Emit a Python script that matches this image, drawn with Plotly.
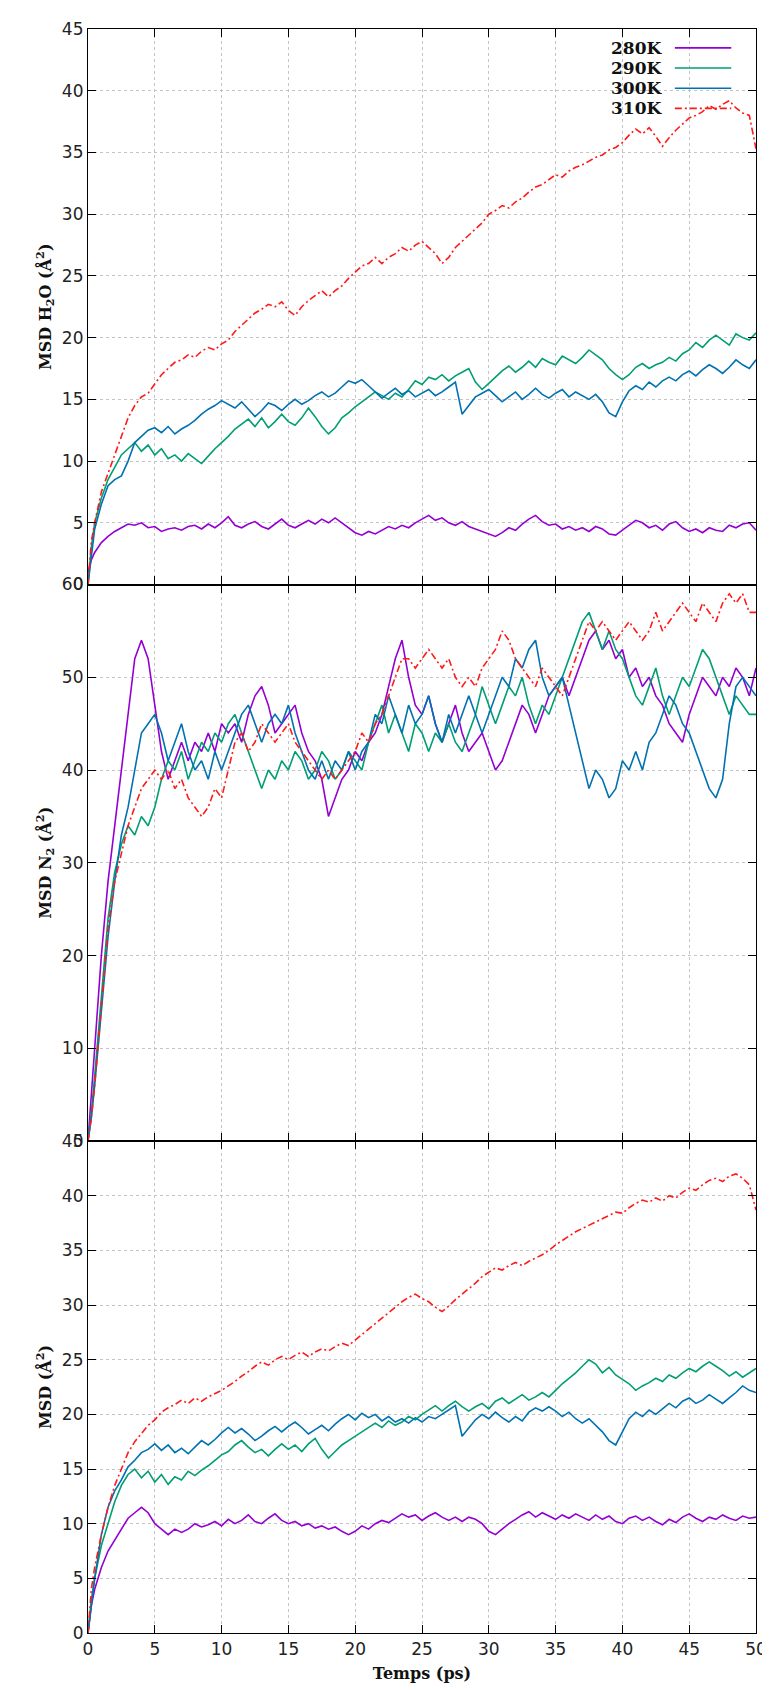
import plotly.graph_objects as go
from plotly.subplots import make_subplots

# time axis (ps): 0, 0.25, then every 0.5 ps up to 50
TIME = [0, 0.25] + [0.5 * k for k in range(1, 101)]
LABELS = ["280K", "290K", "300K", "310K"]
COLORS = ["#9400D3", "#009E73", "#0072B2", "#FF1A1A"]

# --- MSD H2O ---
H2O_280 = [1.0, 2.0,
           2.6, 3.4, 3.9, 4.3, 4.6, 4.9, 4.8, 5.0, 4.6, 4.7,
           4.3, 4.5, 4.6, 4.4, 4.7, 4.8, 4.5, 4.9, 4.6, 5.0,
           5.5, 4.8, 4.6, 4.9, 5.1, 4.7, 4.5, 4.9, 5.3, 4.8,
           4.6, 4.9, 5.2, 4.9, 5.3, 5.0, 5.4, 5.0, 4.6, 4.2,
           4.0, 4.3, 4.1, 4.4, 4.7, 4.5, 4.8, 4.6, 5.0, 5.3,
           5.6, 5.2, 5.4, 5.0, 4.8, 5.1, 4.7, 4.5, 4.3, 4.1,
           3.9, 4.2, 4.6, 4.4, 4.9, 5.3, 5.6, 5.1, 4.8, 4.9,
           4.5, 4.7, 4.4, 4.6, 4.3, 4.7, 4.5, 4.1, 4.0, 4.4,
           4.8, 5.2, 5.0, 4.6, 4.8, 4.4, 4.9, 5.1, 4.6, 4.3,
           4.5, 4.2, 4.6, 4.4, 4.3, 4.8, 4.6, 4.9, 5.0, 4.4]
H2O_290 = [0.0, 3.0,
           5.0, 7.0, 8.5, 9.5, 10.5, 11.0, 11.5, 10.8, 11.3, 10.5,
           11.0, 10.2, 10.5, 10.0, 10.6, 10.2, 9.8, 10.4, 11.0, 11.5,
           12.0, 12.6, 13.0, 13.4, 12.8, 13.5, 12.7, 13.2, 13.8, 13.2,
           12.9, 13.5, 14.3, 13.6, 12.8, 12.2, 12.7, 13.5, 13.9, 14.4,
           14.8, 15.2, 15.6, 15.3, 15.0, 15.5, 15.2, 15.8, 16.5, 16.2,
           16.8, 16.6, 17.0, 16.5, 16.9, 17.2, 17.5, 16.4, 15.8, 16.3,
           16.8, 17.3, 17.7, 17.2, 17.6, 18.1, 17.6, 18.3, 18.0, 17.8,
           18.5, 18.2, 17.9, 18.4, 19.0, 18.6, 18.2, 17.5, 17.0, 16.6,
           17.0, 17.6, 17.9, 17.5, 17.8, 18.0, 18.4, 18.1, 18.7, 19.0,
           19.6, 19.2, 19.8, 20.2, 19.8, 19.4, 20.3, 20.0, 19.8, 20.4]
H2O_300 = [0.0, 2.5,
           4.5, 6.5, 8.0, 8.5, 8.8, 10.0, 11.5, 12.0, 12.5, 12.7,
           12.3, 12.8, 12.2, 12.6, 12.9, 13.3, 13.8, 14.2, 14.5, 14.9,
           14.6, 14.3, 14.8, 14.2, 13.6, 14.1, 14.7, 14.5, 14.1, 14.6,
           15.0, 14.6, 14.9, 15.3, 15.6, 15.2, 15.5, 16.0, 16.5, 16.3,
           16.6, 16.1, 15.6, 15.1, 15.5, 15.9, 15.4, 15.7, 15.2, 15.5,
           15.8, 15.3, 15.6, 16.0, 16.4, 13.8, 14.5, 15.2, 15.5, 15.8,
           15.3, 14.8, 15.2, 15.6, 15.0, 15.4, 15.9, 15.4, 15.1, 15.5,
           15.8, 15.2, 15.6, 15.3, 15.0, 15.4, 14.8, 13.9, 13.6, 14.8,
           15.7, 16.1, 15.8, 16.4, 16.0, 16.5, 16.8, 16.5, 17.0, 17.3,
           16.9, 17.4, 17.8, 17.5, 17.1, 17.6, 18.2, 17.8, 17.5, 18.2]
H2O_310 = [0.0, 3.5,
           5.0, 7.5, 9.0, 10.5, 12.0, 13.5, 14.5, 15.2, 15.5, 16.3,
           17.0, 17.5, 18.0, 18.2, 18.6, 18.4, 18.9, 19.2, 19.0, 19.5,
           19.8, 20.5, 21.0, 21.5, 22.0, 22.3, 22.7, 22.5, 22.9, 22.2,
           21.8, 22.5, 23.0, 23.4, 23.8, 23.3, 23.8, 24.2, 24.8, 25.3,
           25.8, 26.0, 26.5, 26.0, 26.5, 26.8, 27.3, 27.0, 27.5, 27.8,
           27.3, 26.8, 26.0, 26.5, 27.3, 27.8, 28.3, 28.8, 29.3, 30.0,
           30.3, 30.7, 30.5, 31.0, 31.3, 31.8, 32.2, 32.4, 32.8, 33.2,
           33.0, 33.5, 33.8, 34.0, 34.3, 34.6, 34.8, 35.2, 35.4, 35.8,
           36.4, 36.9, 36.5, 37.0, 36.3, 35.5, 36.2, 36.8, 37.3, 37.8,
           38.0, 38.3, 38.8, 38.5, 38.9, 39.2, 38.6, 38.2, 38.0, 35.3]

# --- MSD N2 ---
N2_280 = [0, 5,
          10, 20, 28, 34, 40, 46, 52, 54, 52, 47,
          42, 39, 41, 43, 41, 43, 42, 44, 42, 45,
          44, 45, 43, 46, 48, 49, 47, 44, 45, 46,
          47, 44, 42, 41, 39, 35, 37, 39, 40, 42,
          41, 43, 44, 46, 49, 52, 54, 50, 47, 46,
          48, 45, 43, 45, 47, 44, 42, 43, 44, 42,
          40, 41, 43, 45, 47, 46, 44, 46, 48, 49,
          50, 48, 50, 52, 54, 55, 53, 54, 52, 53,
          50, 51, 49, 50, 48, 47, 45, 44, 43, 46,
          48, 50, 49, 48, 50, 49, 51, 50, 48, 51]
N2_290 = [0, 3,
          7, 16, 24, 29, 32, 34, 33, 35, 34, 36,
          39, 41, 40, 42, 39, 41, 43, 42, 44, 43,
          45, 46, 44, 42, 40, 38, 40, 39, 41, 40,
          42, 41, 39, 40, 42, 41, 39, 40, 42, 41,
          40, 43, 45, 47, 44, 46, 44, 42, 45, 44,
          42, 44, 43, 45, 43, 42, 44, 46, 49, 47,
          45, 47, 49, 48, 50, 47, 45, 47, 46, 48,
          50, 52, 54, 56, 57, 55, 53, 55, 53, 52,
          50, 48, 47, 49, 51, 48, 46, 48, 50, 49,
          51, 53, 52, 50, 48, 46, 48, 47, 46, 46]
N2_300 = [0, 2.5,
          6, 14, 22, 28, 33, 36, 40, 44, 45, 46,
          44, 41, 43, 45, 42, 40, 41, 39, 42, 40,
          42, 44, 46, 47, 45, 43, 45, 46, 45, 47,
          44, 42, 40, 39, 41, 39, 41, 40, 42, 40,
          42, 43, 46, 45, 48, 46, 44, 47, 45, 46,
          48, 45, 43, 46, 44, 46, 48, 46, 44, 46,
          48, 50, 49, 52, 51, 53, 54, 50, 48, 49,
          50, 47, 44, 41, 38, 40, 39, 37, 38, 41,
          40, 42, 40, 43, 44, 46, 48, 47, 45, 44,
          42, 40, 38, 37, 39, 45, 49, 50, 49, 48]
N2_310 = [0, 2.5,
          6, 15, 23, 28, 31, 34, 36, 38, 39, 40,
          39, 40, 38, 39, 37, 36, 35, 36, 38, 37,
          40, 43, 44, 42, 43, 45, 44, 43, 44, 45,
          43, 42, 41, 40, 39, 40, 39, 40, 41, 42,
          44, 43, 45, 46, 48, 50, 52, 52, 51, 52,
          53, 52, 51, 52, 50, 49, 50, 49, 51, 52,
          53, 55, 54, 52, 51, 50, 49, 51, 50, 49,
          48, 50, 52, 54, 56, 55, 56, 55, 54, 55,
          56, 55, 54, 55, 57, 55, 56, 57, 58, 57,
          56, 58, 57, 56, 58, 59, 58, 59, 57, 57]

# --- MSD total ---
ALL_280 = [0.0, 2.5,
           4.0, 6.0, 7.5, 8.5, 9.5, 10.5, 11.0, 11.5, 11.0, 10.0,
           9.5, 9.0, 9.5, 9.2, 9.5, 10.0, 9.7, 9.9, 10.2, 9.8,
           10.4, 10.0, 10.3, 10.8, 10.2, 10.0, 10.5, 10.9, 10.3, 10.0,
           10.2, 9.8, 10.0, 9.6, 9.8, 9.5, 9.7, 9.3, 9.0, 9.3,
           9.8, 9.5, 10.0, 10.3, 10.1, 10.5, 10.9, 10.6, 10.8, 10.3,
           10.7, 11.0, 10.6, 10.3, 10.6, 10.2, 10.6, 10.4, 10.0, 9.3,
           9.0, 9.5, 10.0, 10.4, 10.8, 11.1, 10.6, 11.0, 10.7, 10.4,
           10.8, 10.5, 10.9, 10.6, 10.3, 10.8, 10.4, 10.7, 10.2, 10.0,
           10.5, 10.7, 10.3, 10.6, 10.2, 9.9, 10.4, 10.1, 10.6, 10.9,
           10.5, 10.2, 10.6, 10.4, 10.8, 10.5, 10.3, 10.7, 10.5, 10.6]
ALL_290 = [0.0, 3.0,
           5.0, 8.0, 10.0, 12.0, 13.5, 14.5, 15.0, 14.2, 14.8, 13.8,
           14.5, 13.6, 14.3, 14.0, 14.8, 14.4, 14.9, 15.3, 15.8, 16.3,
           16.6, 17.2, 17.6, 17.0, 16.5, 16.8, 16.2, 16.8, 17.3, 16.8,
           17.2, 16.6, 17.3, 17.8, 16.8, 16.0, 16.6, 17.2, 17.6, 18.0,
           18.4, 18.8, 19.2, 18.8, 19.4, 19.0, 19.3, 19.8, 19.5, 20.0,
           20.4, 20.8, 20.3, 20.8, 21.2, 20.7, 20.3, 20.7, 21.0, 20.5,
           21.2, 21.5, 21.0, 21.4, 21.8, 21.3, 21.6, 22.0, 21.6, 22.2,
           22.8, 23.3, 23.8, 24.4, 25.0, 24.6, 23.8, 24.3, 23.6, 23.2,
           22.8, 22.2, 22.6, 22.9, 23.3, 23.0, 23.6, 23.3, 23.8, 24.2,
           23.9, 24.4, 24.8, 24.4, 24.0, 23.5, 23.9, 23.4, 23.8, 24.2]
ALL_300 = [0.0, 2.5,
           5.0, 9.0, 11.5, 13.0, 14.0, 15.2, 15.8, 16.5, 16.8, 17.3,
           16.7, 17.2, 16.5, 16.9, 16.4, 17.0, 17.6, 17.2, 17.7, 18.3,
           18.8, 18.3, 18.7, 18.2, 17.6, 18.0, 18.5, 18.9, 18.4, 18.9,
           19.3, 18.8, 18.2, 18.6, 19.0, 18.5, 19.1, 19.6, 20.0, 19.5,
           20.1, 19.7, 20.0, 19.4, 19.8, 19.3, 19.6, 19.2, 19.7, 19.3,
           19.8, 19.6, 20.0, 20.4, 20.8, 18.0, 18.8, 19.5, 20.0, 19.6,
           20.2, 19.7, 19.3, 19.8, 19.4, 20.2, 20.6, 20.3, 20.7, 20.3,
           19.8, 20.2, 19.6, 19.2, 19.6, 19.0, 18.4, 17.6, 17.2, 18.4,
           19.6, 20.2, 19.8, 20.4, 20.0, 20.5, 21.0, 20.6, 21.2, 21.5,
           21.0, 21.3, 21.8, 21.4, 21.0, 21.5, 22.0, 22.6, 22.2, 22.0]
ALL_310 = [0.0, 4.0,
           6.0, 9.0, 11.5, 13.5, 15.0, 16.5, 17.5, 18.2, 19.0, 19.5,
           20.2, 20.6, 20.9, 21.3, 21.0, 21.5, 21.2, 21.6, 21.9, 22.2,
           22.6, 23.0, 23.5, 23.9, 24.4, 24.8, 24.5, 25.0, 25.3, 25.0,
           25.4, 25.7, 25.3, 25.7, 26.0, 25.8, 26.2, 26.5, 26.3, 26.8,
           27.3, 27.8, 28.3, 28.8, 29.3, 29.8, 30.3, 30.7, 31.0, 30.6,
           30.3, 29.8, 29.4, 29.9, 30.5, 31.0, 31.5, 32.0, 32.6, 33.0,
           33.4, 33.2, 33.6, 33.9, 33.6, 34.0, 34.3, 34.6, 35.0, 35.5,
           35.9, 36.3, 36.7, 37.0, 37.3, 37.6, 37.9, 38.2, 38.5, 38.4,
           38.9, 39.3, 39.6, 39.4, 39.8, 39.5, 40.0, 39.8, 40.3, 40.7,
           40.5, 41.0, 41.4, 41.6, 41.3, 41.8, 42.0, 41.6, 41.0, 38.7]

PANELS = [
    ([H2O_280, H2O_290, H2O_300, H2O_310], "MSD H<sub>2</sub>O (Å<sup>2</sup>)", 45, 5),
    ([N2_280, N2_290, N2_300, N2_310], "MSD N<sub>2</sub> (Å<sup>2</sup>)", 60, 10),
    ([ALL_280, ALL_290, ALL_300, ALL_310], "MSD (Å<sup>2</sup>)", 45, 5),
]
DASH_310 = "7px,3px,2px,3px"

fig = make_subplots(rows=3, cols=1, shared_xaxes=True, vertical_spacing=0,
                    row_heights=[559, 560, 495])

for row, (series, ytitle, ymax, dy) in enumerate(PANELS, start=1):
    for lab, col, ys in zip(LABELS, COLORS, series):
        assert len(ys) == len(TIME), (lab, row, len(ys))
        fig.add_trace(go.Scatter(
            x=TIME, y=ys, mode="lines", name=lab, showlegend=False,
            line=dict(color=col, width=1.6,
                      dash=DASH_310 if lab == "310K" else "solid"),
        ), row=row, col=1)
    fig.update_yaxes(
        range=[0, ymax], dtick=dy, tick0=0,
        title=dict(text=f"<b>{ytitle}</b>", standoff=6,
                   font=dict(family="DejaVu Serif", size=16, color="#111")),
        row=row, col=1)

fig.update_xaxes(range=[0, 50], dtick=5, tick0=0)
fig.update_xaxes(showticklabels=True, row=3, col=1,
                 title=dict(text="<b>Temps (ps)</b>", standoff=10,
                            font=dict(family="DejaVu Serif", size=16, color="#111")))

axis_style = dict(
    showline=True, linecolor="black", linewidth=1.2, mirror="ticks",
    ticks="inside", ticklen=8, tickwidth=1.2, tickcolor="black",
    showgrid=True, gridcolor="#c4c4c4", griddash="dot", gridwidth=1,
    zeroline=False,
    tickfont=dict(family="DejaVu Sans", size=17, color="#222"),
)
fig.update_xaxes(**axis_style)
fig.update_yaxes(**axis_style)

# gnuplot-style key: label on the left, line sample on the right
L, R, T, B = 80, 15, 11, 65
W, H = 770, 1690
pw, ph = W - L - R, H - T - B


def px(x):
    return (x - L) / pw


def py(y):
    return (H - B - y) / ph


for i, (lab, col) in enumerate(zip(LABELS, COLORS)):
    yy = py(30 + 20.3 * i)
    fig.add_annotation(xref="paper", yref="paper", x=px(662), y=yy, text=f"<b>{lab}</b>",
                       showarrow=False, xanchor="right", yanchor="middle",
                       font=dict(family="DejaVu Serif", size=17, color="#111"))
    fig.add_shape(type="line", xref="paper", yref="paper",
                  x0=px(673), x1=px(730), y0=yy, y1=yy,
                  line=dict(color=col, width=1.6,
                            dash=DASH_310 if lab == "310K" else "solid"))

fig.update_layout(
    width=W, height=H,
    margin=dict(l=L, r=R, t=T, b=B),
    paper_bgcolor="white", plot_bgcolor="white",
    showlegend=False,
)

fig.write_html("out.html")
